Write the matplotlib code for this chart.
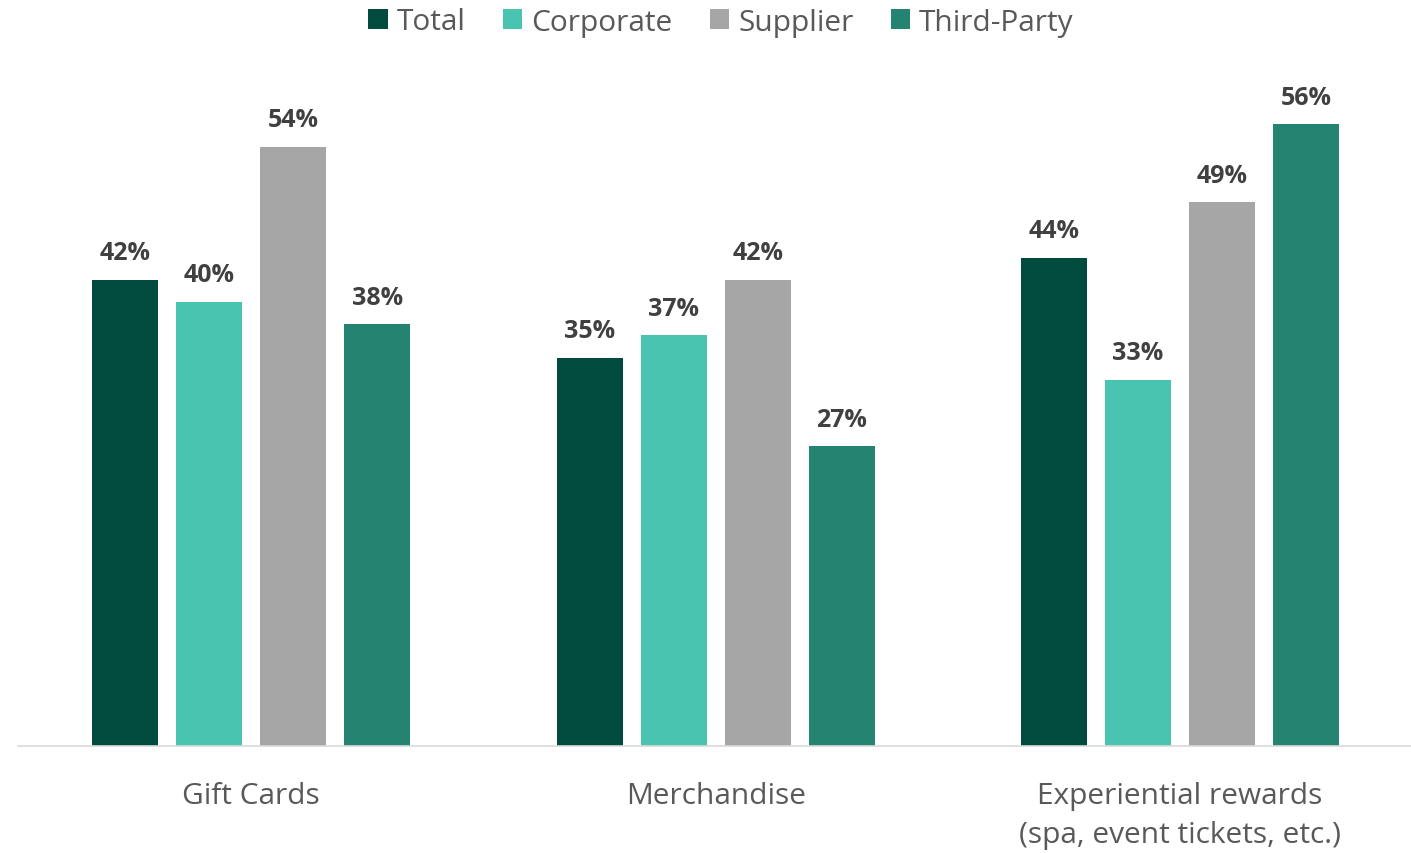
import matplotlib.pyplot as plt
import numpy as np

plt.rcParams['font.family'] = ['Open Sans', 'DejaVu Sans']

categories = ['Gift Cards', 'Merchandise', 'Experiential rewards\n(spa, event tickets, etc.)']
series = ['Total', 'Corporate', 'Supplier', 'Third-Party']
total = [42, 35, 44]
corporate = [40, 37, 33]
supplier = [54, 42, 49]
third_party = [38, 27, 56]
colors = ['#004A3E', '#48C4B1', '#A6A6A6', '#258372']

fig = plt.figure(figsize=(14.11, 8.54), dpi=100)
ax = fig.add_axes([18 / 1411, 107 / 854, 1 - 18 / 1411, 666 / 854])

x = np.arange(len(categories))
width = 0.142
step = 0.181
for i, (name, vals) in enumerate(zip(series, [total, corporate, supplier, third_party])):
    pos = x + (i - 1.5) * step
    bars = ax.bar(pos, vals, width, color=colors[i], label=name)
    for b, v in zip(bars, vals):
        ax.annotate(f'{v}%', (b.get_x() + b.get_width() / 2, v),
                    xytext=(0, 19.5), textcoords='offset points',
                    ha='center', va='center', fontsize=18, fontweight='bold',
                    color='#404040')

ax.set_xlim(-0.502, 2.497)
ax.set_ylim(0, 60)
ax.set_xticks(x)
ax.set_xticklabels(categories, fontsize=21.5, color='#595959', linespacing=1.45)
ax.tick_params(axis='x', length=0, pad=25)
ax.set_yticks([])
for s in ['top', 'left', 'right']:
    ax.spines[s].set_visible(False)
ax.spines['bottom'].set_color('#D9D9D9')
ax.spines['bottom'].set_linewidth(1.2)

leg = fig.legend(loc='center', bbox_to_anchor=(721 / 1411, 1 - 23 / 854), ncol=4,
                 frameon=False, fontsize=21.5, handlelength=0.65, handleheight=0.65,
                 handletextpad=0.3, columnspacing=1.25)
for t in leg.get_texts():
    t.set_color('#595959')

fig.savefig('out.png', dpi=100)
